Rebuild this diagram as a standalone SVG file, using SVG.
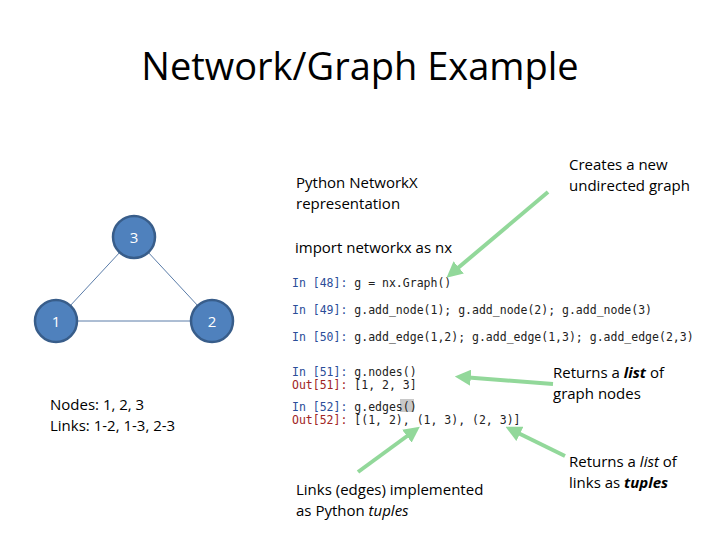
<svg xmlns="http://www.w3.org/2000/svg" width="720" height="540" viewBox="0 0 720 540">
<style>
.t{font-family:"Open Sans","Liberation Sans",sans-serif;font-size:15px;fill:#000}
.c{font-family:"DejaVu Sans Mono","Liberation Mono",monospace;font-size:11.5px;fill:#222}
.in{fill:#2b4d99}.out{fill:#a02424}
.n{fill:#4f81bd;stroke:#385d8a;stroke-width:2.5}
.nl{font-family:"Open Sans","Liberation Sans",sans-serif;font-size:15px;fill:#fff;text-anchor:middle}
.e{stroke:#5a7ca8;stroke-width:1}
.a{stroke:#92d89a;stroke-width:4;fill:none;marker-end:url(#ah)}
</style>
<defs><marker id="ah" markerWidth="4" markerHeight="4" refX="2.2" refY="2" orient="auto"><path d="M0,0L4,2L0,4z" fill="#92d89a"/></marker></defs>
<rect width="720" height="540" fill="#fff"/>
<text x="360" y="80" text-anchor="middle" font-family="Open Sans,Liberation Sans,sans-serif" font-size="38">Network/Graph Example</text>
<g id="edges"><line class="e" x1="134" y1="237" x2="56" y2="321"/><line class="e" x1="134" y1="237" x2="212" y2="321"/><line class="e" x1="56" y1="321" x2="212" y2="321"/></g>
<g id="n3"><circle class="n" cx="134" cy="237" r="21"/><text class="nl" x="134" y="243">3</text></g>
<g id="n1"><circle class="n" cx="56" cy="321" r="21"/><text class="nl" x="56" y="327">1</text></g>
<g id="n2"><circle class="n" cx="212" cy="321" r="21"/><text class="nl" x="212" y="327">2</text></g>
<text class="t" x="50" y="410">Nodes: 1, 2, 3</text>
<text class="t" x="50" y="431">Links: 1-2, 1-3, 2-3</text>
<text class="t" x="296" y="188">Python NetworkX</text>
<text class="t" x="296" y="209">representation</text>
<text class="t" x="295" y="253">import networkx as nx</text>
<text class="t" x="569" y="170">Creates a new</text>
<text class="t" x="569" y="191">undirected graph</text>
<text class="t" x="553" y="378">Returns a <tspan font-style="italic" font-weight="bold">list</tspan> of</text>
<text class="t" x="553" y="399">graph nodes</text>
<text class="t" x="569" y="467">Returns a <tspan font-style="italic">list</tspan> of</text>
<text class="t" x="569" y="488">links as <tspan font-style="italic" font-weight="bold">tuples</tspan></text>
<text class="t" x="296" y="495">Links (edges) implemented</text>
<text class="t" x="296" y="516">as Python <tspan font-style="italic">tuples</tspan></text>
<g id="code">
<rect x="400" y="399" width="14" height="13" fill="#c8c8c8"/>
<text class="c" x="292" y="287"><tspan class="in">In [48]:</tspan> g = nx.Graph()</text>
<text class="c" x="292" y="314"><tspan class="in">In [49]:</tspan> g.add_node(1); g.add_node(2); g.add_node(3)</text>
<text class="c" x="292" y="341"><tspan class="in">In [50]:</tspan> g.add_edge(1,2); g.add_edge(1,3); g.add_edge(2,3)</text>
<text class="c" x="292" y="376"><tspan class="in">In [51]:</tspan> g.nodes()</text>
<text class="c" x="292" y="389"><tspan class="out">Out[51]:</tspan> [1, 2, 3]</text>
<text class="c" x="292" y="411"><tspan class="in">In [52]:</tspan> g.edges()</text>
<text class="c" x="292" y="424"><tspan class="out">Out[52]:</tspan> [(1, 2), (1, 3), (2, 3)]</text>
</g>
<g id="connectors">
<line class="a" x1="548" y1="192" x2="452" y2="273"/>
<line class="a" x1="553" y1="384" x2="462" y2="377"/>
<line class="a" x1="358" y1="472" x2="414" y2="431"/>
<line class="a" x1="565" y1="456" x2="512" y2="430"/>
</g>
</svg>
